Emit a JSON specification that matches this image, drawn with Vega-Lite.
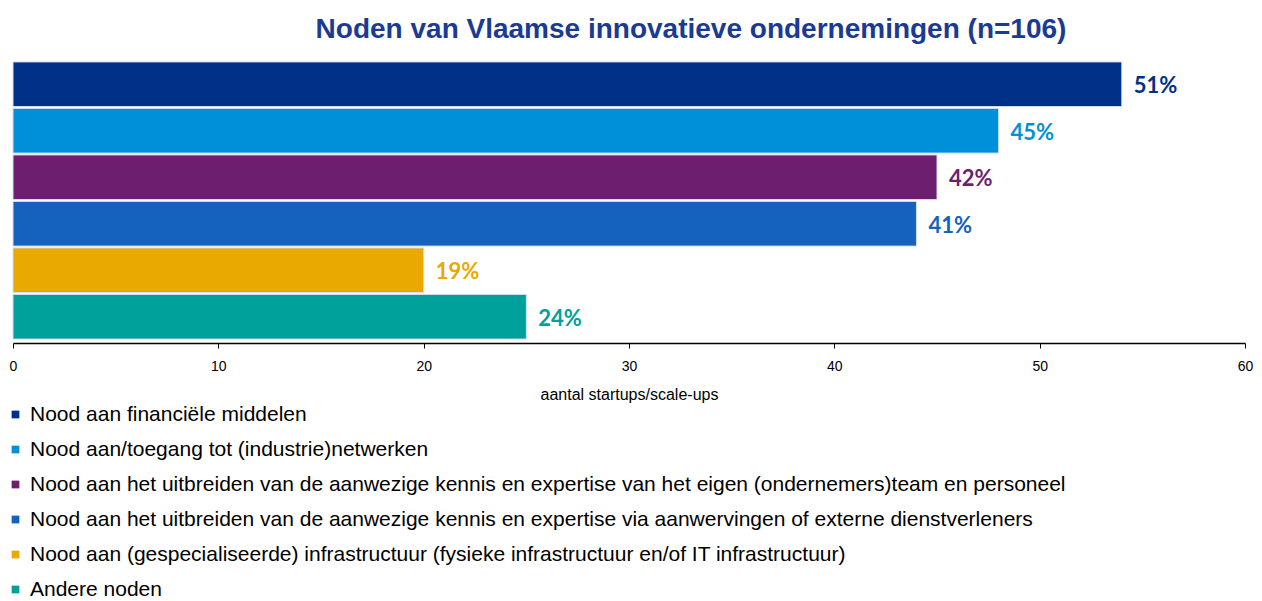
{
  "$schema": "https://vega.github.io/schema/vega-lite/v6.json",
  "width": 1232,
  "height": 279,
  "autosize": {"type": "none"},
  "padding": {"left": 13, "top": 61, "right": 17, "bottom": 261},
  "background": "white",
  "config": {"view": {"stroke": null}},
  "title": {
    "text": "Noden van Vlaamse innovatieve ondernemingen (n=106)",
    "font": "Liberation Sans",
    "fontSize": 28,
    "fontWeight": "bold",
    "color": "#1b3a93",
    "anchor": "middle",
    "dx": 62,
    "offset": 17
  },
  "data": {
    "values": [
      {"nood": "Nood aan financiële middelen", "aantal": 54, "pct": "51%"},
      {"nood": "Nood aan/toegang tot (industrie)netwerken", "aantal": 48, "pct": "45%"},
      {"nood": "Nood aan het uitbreiden van de aanwezige kennis en expertise van het eigen (ondernemers)team en personeel", "aantal": 45, "pct": "42%"},
      {"nood": "Nood aan het uitbreiden van de aanwezige kennis en expertise via aanwervingen of externe dienstverleners", "aantal": 44, "pct": "41%"},
      {"nood": "Nood aan (gespecialiseerde) infrastructuur (fysieke infrastructuur en/of IT infrastructuur)", "aantal": 20, "pct": "19%"},
      {"nood": "Andere noden", "aantal": 25, "pct": "24%"}
    ]
  },
  "encoding": {
    "y": {
      "field": "nood",
      "type": "nominal",
      "sort": null,
      "axis": null,
      "scale": {"paddingInner": 0.04, "paddingOuter": 0.02}
    },
    "x": {
      "field": "aantal",
      "type": "quantitative",
      "scale": {"domain": [0, 60], "nice": false},
      "axis": {
        "title": "aantal startups/scale-ups",
        "values": [0, 10, 20, 30, 40, 50, 60],
        "grid": false,
        "labelFlush": false,
        "domainColor": "#000000",
        "domainWidth": 1.5,
        "tickColor": "#000000",
        "tickSize": 5,
        "offset": 3,
        "labelFont": "Liberation Sans",
        "labelFontSize": 14,
        "labelColor": "#000000",
        "labelPadding": 11,
        "titleFont": "Liberation Sans",
        "titleFontSize": 16,
        "titleFontWeight": "normal",
        "titleColor": "#000000",
        "titlePadding": 13
      }
    },
    "color": {
      "field": "nood",
      "type": "nominal",
      "sort": null,
      "scale": {
        "domain": [
          "Nood aan financiële middelen",
          "Nood aan/toegang tot (industrie)netwerken",
          "Nood aan het uitbreiden van de aanwezige kennis en expertise van het eigen (ondernemers)team en personeel",
          "Nood aan het uitbreiden van de aanwezige kennis en expertise via aanwervingen of externe dienstverleners",
          "Nood aan (gespecialiseerde) infrastructuur (fysieke infrastructuur en/of IT infrastructuur)",
          "Andere noden"
        ],
        "range": ["#003087", "#0090da", "#6e1e6e", "#1561be", "#e9a900", "#00a19b"]
      },
      "legend": {
        "title": null,
        "orient": "none",
        "legendX": -8,
        "legendY": 343,
        "symbolType": "square",
        "symbolSize": 60,
        "symbolStrokeWidth": 0,
        "labelFont": "Liberation Sans",
        "labelFontSize": 21,
        "labelColor": "#000000",
        "labelLimit": 1240,
        "labelOffset": 4,
        "rowPadding": 13
      }
    }
  },
  "layer": [
    {
      "mark": {"type": "bar", "stroke": "#d3ddef", "strokeWidth": 1}
    },
    {
      "mark": {
        "type": "text",
        "align": "left",
        "baseline": "middle",
        "dx": 12,
        "dy": 2,
        "font": "Lato",
        "fontSize": 22,
        "fontWeight": "bold"
      },
      "encoding": {
        "text": {"field": "pct"}
      }
    }
  ]
}
